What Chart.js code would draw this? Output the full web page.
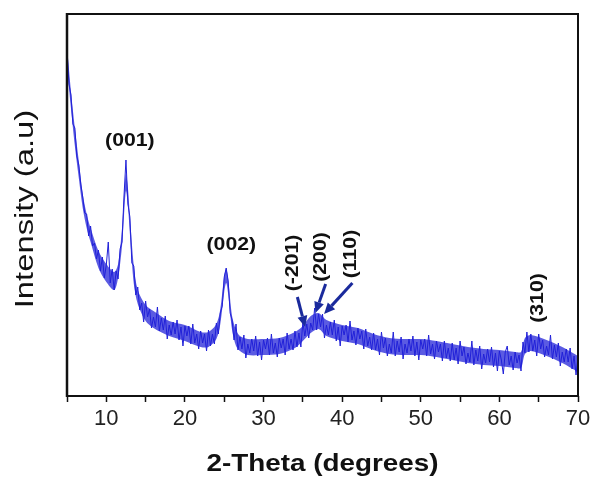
<!DOCTYPE html>
<html>
<head>
<meta charset="utf-8">
<script src="https://cdn.jsdelivr.net/npm/chart.js@4.4.1/dist/chart.umd.min.js"></script>
<style>
  html, body { margin: 0; padding: 0; background: #fff; }
</style>
</head>
<body>
<canvas id="xrdChart" width="595" height="480"></canvas>
<script>
// ----------- XRD pattern data -----------
const thetaStart = 5;
const thetaStep = 0.25;
// intensity (a.u.) every 0.25 deg from 5 to 70, one row per degree
const intensity = [
  346, 312, 301, 272,   // 5
  268, 240, 231, 212,   // 6
  199, 183, 182, 160,   // 7
  170, 150, 153, 137,   // 8
  146, 125, 139, 118,   // 9
  131, 154, 113, 127,   // 10
  106, 125, 117, 147,   // 11
  154, 200, 236, 192,   // 12
  179, 133, 130, 101,   // 13
  109, 86, 93, 74,      // 14
  95, 79, 87, 68,       // 15
  79, 69, 89, 65,       // 16
  78, 66, 80, 57,       // 17
  71, 61, 74, 62,       // 18
  76, 56, 69, 50,       // 19
  70, 60, 70, 52,       // 20
  72, 53, 62, 47,       // 21
  65, 53, 62, 45,       // 22
  66, 50, 62, 52,       // 23
  73, 62, 83, 90,       // 24
  119, 128, 115, 83,    // 25
  76, 56, 72, 46,       // 26
  59, 47, 61, 38,       // 27
  52, 43, 57, 45,       // 28
  60, 40, 54, 36,       // 29
  56, 47, 58, 41,       // 30
  62, 43, 53, 39,       // 31
  58, 48, 57, 41,       // 32
  63, 47, 57, 46,       // 33
  65, 49, 63, 49,       // 34
  74, 60, 72, 58,       // 35
  73, 66, 88, 66,       // 36
  82, 69, 82, 58,       // 37
  71, 61, 74, 61,       // 38
  76, 55, 69, 50,       // 39
  70, 61, 71, 54,       // 40
  75, 56, 65, 51,       // 41
  68, 57, 65, 47,       // 42
  67, 50, 59, 46,       // 43
  63, 46, 57, 41,       // 44
  64, 48, 58, 40,       // 45
  52, 43, 64, 40,       // 46
  55, 44, 59, 37,       // 47
  52, 43, 57, 45,       // 48
  60, 40, 54, 36,       // 49
  56, 47, 57, 40,       // 50
  61, 42, 52, 37,       // 51
  55, 44, 52, 35,       // 52
  55, 38, 48, 35,       // 53
  53, 36, 48, 32,       // 54
  55, 40, 49, 32,       // 55
  43, 34, 55, 31,       // 56
  46, 35, 50, 27,       // 57
  42, 33, 47, 34,       // 58
  49, 29, 43, 25,       // 59
  45, 36, 22, 44,       // 60
  50, 31, 40, 26,       // 61
  44, 33, 41, 25,       // 62
  54, 43, 64, 44,       // 63
  62, 45, 56, 40,       // 64
  62, 47, 56, 39,       // 65
  50, 41, 61, 37,       // 66
  51, 39, 53, 30,       // 67
  44, 34, 47, 34,       // 68
  48, 27, 40, 21,       // 69
  39                    // 70
];

// dense noise band of the trace: top and bottom edge
const bandTheta = [5, 5.5, 6, 6.5, 7, 7.5, 8, 9, 10, 11, 11.5, 12, 12.25, 12.5, 12.75, 13, 13.5, 14,
    15, 16, 18, 20, 22, 23, 24, 24.5, 25, 25.25, 25.5, 26, 26.5, 27, 28, 30, 32, 34, 35, 36, 37, 38,
    40, 42, 44, 46, 48, 50, 52, 54, 56, 58, 60, 62, 62.75, 63.25, 64, 66, 68, 70];
const bandUpper = [350, 305, 268, 235, 202, 182, 168, 145, 132, 124, 132, 168, 200, 222, 208, 180, 130, 106,
    91, 85, 75, 71, 64, 64, 72, 87, 120, 127, 117, 80, 66, 60, 57, 57, 58, 64, 70, 80, 83, 76,
    71, 68, 62, 58, 57, 57, 55, 52, 49, 47, 46, 44, 44, 58, 61, 56, 49, 40];
const bandLower = [330, 288, 250, 218, 188, 168, 154, 128, 114, 106, 118, 150, 180, 205, 190, 162, 112, 92,
    75, 68, 60, 55, 49, 49, 57, 72, 104, 113, 102, 66, 50, 45, 41, 41, 42, 48, 55, 63, 67, 60,
    55, 52, 46, 42, 41, 41, 39, 36, 33, 31, 30, 28, 28, 42, 45, 40, 33, 24];

// ----------- Peak labels and arrows (data units) -----------
const peakLabels = ['(001)', '(002)', '(-201)', '(200)', '(110)', '(310)'];
const labelTheta = [13.0, 25.9, 33.7, 37.3, 41.1, 64.9];
const labelIntensity = [255, 151, 133, 139, 142, 98];
const labelVertical = [false, false, true, true, true, true];

const arrowFromTheta = [34.3, 37.9, 41.3];
const arrowFromIntensity = [99, 112, 113];
const arrowToTheta = [35.3, 36.6, 37.7];
const arrowToIntensity = [69, 83, 82];

const points = intensity.map((v, i) => ({ x: thetaStart + i * thetaStep, y: v }));
const upperPoints = bandTheta.map((t, i) => ({ x: t, y: bandUpper[i] }));
const lowerPoints = bandTheta.map((t, i) => ({ x: t, y: bandLower[i] }));

const FONT = '"Liberation Sans", Arial, Helvetica, sans-serif';

function stretchedText(ctx, text, x, y, size, bold, stretch, angle) {
    ctx.save();
    ctx.translate(x, y);
    if (angle) ctx.rotate(angle);
    ctx.scale(stretch, 1);
    ctx.font = (bold ? 'bold ' : '') + size + 'px ' + FONT;
    ctx.textAlign = 'center';
    ctx.textBaseline = 'middle';
    ctx.fillStyle = '#111';
    ctx.fillText(text, 0, 0);
    ctx.restore();
}

function arrow(ctx, x1, y1, x2, y2) {
    const ang = Math.atan2(y2 - y1, x2 - x1);
    const head = 11, half = 5;
    const bx = x2 - head * Math.cos(ang), by = y2 - head * Math.sin(ang);
    ctx.save();
    ctx.strokeStyle = '#1a2a9c';
    ctx.fillStyle = '#1a2a9c';
    ctx.lineWidth = 3;
    ctx.beginPath();
    ctx.moveTo(x1, y1);
    ctx.lineTo(bx, by);
    ctx.stroke();
    ctx.beginPath();
    ctx.moveTo(x2, y2);
    ctx.lineTo(bx + half * Math.sin(ang), by - half * Math.cos(ang));
    ctx.lineTo(bx - half * Math.sin(ang), by + half * Math.cos(ang));
    ctx.closePath();
    ctx.fill();
    ctx.restore();
}

// frame, axis titles and peak annotations
const decorations = {
    id: 'decorations',
    afterDraw(chart) {
        const ctx = chart.ctx;
        const a = chart.chartArea;
        const xs = chart.scales.x, ys = chart.scales.y;

        ctx.save();
        ctx.strokeStyle = '#111';
        ctx.lineWidth = 2;
        ctx.strokeRect(a.left, a.top, a.right - a.left, a.bottom - a.top);
        ctx.lineWidth = 2.5;
        ctx.beginPath();
        ctx.moveTo(a.left, a.top - 1);
        ctx.lineTo(a.left, a.bottom + 1);
        ctx.stroke();
        ctx.restore();

        stretchedText(ctx, '2-Theta (degrees)', (a.left + a.right) / 2, a.bottom + 68, 24, true, 1.16, 0);
        stretchedText(ctx, 'Intensity (a.u)', 26, (a.top + a.bottom) / 2 + 4, 26, false, 1.26, -Math.PI / 2);

        peakLabels.forEach((t, i) => {
            const px = xs.getPixelForValue(labelTheta[i]);
            const py = ys.getPixelForValue(labelIntensity[i]);
            stretchedText(ctx, t, px, py, 18, true, 1.18, labelVertical[i] ? -Math.PI / 2 : 0);
        });

        arrowFromTheta.forEach((t, i) => {
            arrow(ctx,
                xs.getPixelForValue(t), ys.getPixelForValue(arrowFromIntensity[i]),
                xs.getPixelForValue(arrowToTheta[i]), ys.getPixelForValue(arrowToIntensity[i]));
        });
    }
};

const ctx = document.getElementById('xrdChart').getContext('2d');
new Chart(ctx, {
    type: 'line',
    data: {
        datasets: [
            {
                data: points,
                borderColor: '#2020d8',
                borderWidth: 1,
                pointRadius: 0,
                tension: 0,
                fill: false
            },
            {
                data: upperPoints,
                borderWidth: 0,
                borderColor: 'rgba(0,0,0,0)',
                pointRadius: 0,
                tension: 0.3,
                fill: false
            },
            {
                data: lowerPoints,
                borderWidth: 0,
                borderColor: 'rgba(0,0,0,0)',
                pointRadius: 0,
                tension: 0.3,
                fill: '-1',
                backgroundColor: 'rgba(28,28,215,0.72)'
            }
        ]
    },
    options: {
        responsive: false,
        animation: false,
        layout: { padding: { top: 14, right: 17, left: 0, bottom: 0 } },
        plugins: {
            legend: { display: false },
            tooltip: { enabled: false }
        },
        scales: {
            x: {
                type: 'linear',
                min: 5,
                max: 70,
                afterFit: axis => { axis.height = 84; },
                ticks: {
                    stepSize: 5,
                    autoSkip: false,
                    maxRotation: 0,
                    padding: 4,
                    color: '#222',
                    font: { family: FONT, size: 22 },
                    callback: v => (v % 10 === 0 ? v : '')
                },
                grid: { drawOnChartArea: false, tickLength: 6, tickWidth: 1.5, tickColor: '#111' },
                border: { display: false }
            },
            y: {
                min: 0,
                max: 382,
                afterFit: axis => { axis.width = 67; },
                ticks: { display: false },
                grid: { display: false },
                border: { display: false }
            }
        }
    },
    plugins: [decorations]
});
</script>
</body>
</html>
